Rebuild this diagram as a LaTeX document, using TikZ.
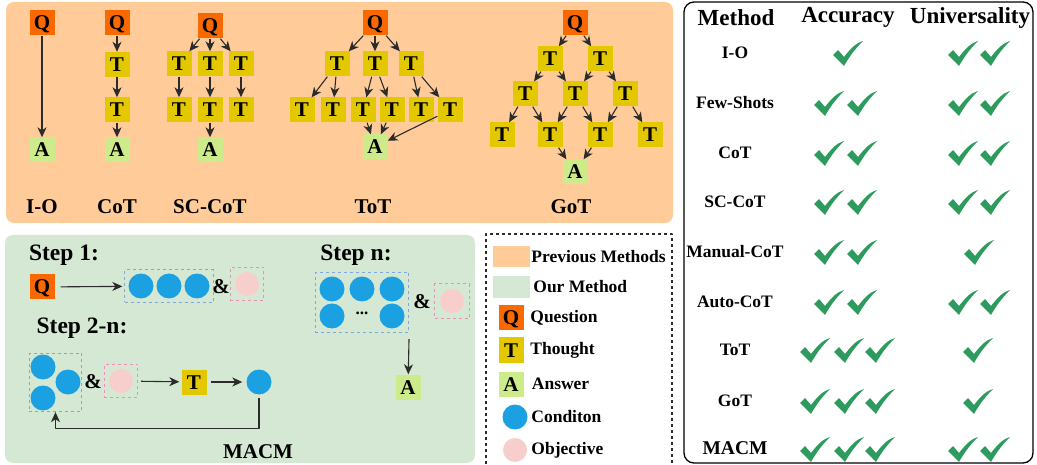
\documentclass[tikz,border=0pt]{standalone}
\usepackage{fontspec}
\setmainfont{Liberation Serif}
\usetikzlibrary{arrows.meta,fit,positioning}
\definecolor{prevbg}{HTML}{FFCC99}
\definecolor{ourbg}{HTML}{D5E8D4}
\definecolor{qorange}{HTML}{FA6800}
\definecolor{tyellow}{HTML}{E3C800}
\definecolor{agreen}{HTML}{CDEB8B}
\definecolor{condblue}{HTML}{1BA1E2}
\definecolor{objpink}{HTML}{F8CECC}
\definecolor{chkgreen}{HTML}{2E9B5E}
\definecolor{boxblue}{HTML}{7EA6E0}
\definecolor{boxpink}{HTML}{EA8FB8}
\definecolor{arrline}{HTML}{2B2B2B}
\tikzset{
  letter/.style={minimum width=25pt, minimum height=25pt, inner sep=0pt, text height=14pt, text depth=0pt, font=\fontsize{21}{21}\selectfont\bfseries},
  qbox/.style={letter, fill=qorange},
  tbox/.style={letter, fill=tyellow},
  abox/.style={letter, fill=agreen},
  cond/.style={circle, fill=condblue, minimum size=25pt, inner sep=0pt},
  obj/.style={circle, fill=objpink, minimum size=24pt, inner sep=0pt},
  arr/.style={-{Stealth[length=10pt,width=9pt,inset=3pt]}, draw=arrline, line width=1.1pt},
  lbl/.style={font=\fontsize{21}{21}\selectfont\bfseries},
  steplbl/.style={font=\fontsize{23.5}{24}\selectfont\bfseries},
  hdr/.style={font=\fontsize{23}{24}\selectfont\bfseries},
  rowlbl/.style={font=\fontsize{17.5}{18}\selectfont\bfseries},
  legtxt/.style={inner sep=0pt, anchor=west, font=\fontsize{17.5}{18}\selectfont\bfseries},
  bluegrp/.style={draw=boxblue, dashed, line width=0.9pt},
  pinkgrp/.style={draw=boxpink, dashed, line width=0.9pt},
  chk/.pic={\fill[chkgreen] (-15,1) -- (-10,-4) -- (-4,3) .. controls (3,-6) and (8,-11) .. (15,-13)
      .. controls (7,-5) and (1,3) .. (-4,12) -- cycle;}
}
\begin{document}
\begin{tikzpicture}[x=1pt, y=-1pt, line join=round]
\useasboundingbox (0,0) rectangle (1037,465);
% panels
\fill[prevbg, rounded corners=8pt] (6,2) rectangle (673,223);
\fill[ourbg, rounded corners=8pt] (5,235) rectangle (475,463);
\draw[line width=1.3pt, rounded corners=10pt] (684,2) rectangle (1033,463);
\draw[arrline, dashed, line width=1.1pt] (486,470) -- (486,234) -- (672,234) -- (672,470);

% I-O
\node[qbox] (ioq) at (42,23) {Q};
\node[abox] (ioa) at (42,150) {A};
\draw[arr] (ioq) -- (ioa);
\node[lbl] (iol) at (42,207) {I-O};

% CoT
\node[qbox] (cotq) at (117,23) {Q};
\node[tbox] (cott1) at (117,64.5) {T};
\node[tbox] (cott2) at (117,110) {T};
\node[abox] (cota) at (117,150) {A};
\draw[arr] (cotq) -- (cott1);
\draw[arr] (cott1) -- (cott2);
\draw[arr] (cott2) -- (cota);
\node[lbl] (cotl) at (117,207) {CoT};

% SC-CoT
\node[qbox] (scq) at (210,26) {Q};
\foreach \x [count=\i] in {179,210,241}{
  \node[tbox] (sc1\i) at (\x,64) {T};
  \node[tbox] (sc2\i) at (\x,110) {T};
  \draw[arr] (scq) -- (sc1\i);
  \draw[arr] (sc1\i) -- (sc2\i);
}
\node[abox] (sca) at (210,150) {A};
\draw[arr] (sc22) -- (sca);
\node[lbl] (scl) at (210,207) {SC-CoT};

% ToT
\node[qbox] (totq) at (375,23) {Q};
\foreach \x [count=\i] in {337,375,411}{
  \node[tbox] (tot1\i) at (\x,64) {T};
  \draw[arr] (totq) -- (tot1\i);
}
\foreach \x [count=\i] in {302,333,363,392,421,450}
  \node[tbox] (tot2\i) at (\x,110) {T};
\foreach \a/\b in {1/1,1/2,2/3,2/4,3/5,3/6}
  \draw[arr] (tot1\a) -- (tot2\b);
\node[abox] (tota) at (375,147) {A};
\foreach \b in {3,4,6}
  \draw[arr] (tot2\b) -- (tota);
\node[lbl] (totl) at (373,207) {ToT};

% GoT
\node[qbox] (gotq) at (575,23) {Q};
\foreach \x [count=\i] in {550,600}
  \node[tbox] (got1\i) at (\x,59) {T};
\foreach \x [count=\i] in {525,575,625}
  \node[tbox] (got2\i) at (\x,94) {T};
\foreach \x [count=\i] in {502,550,600,650}
  \node[tbox] (got3\i) at (\x,135) {T};
\node[abox] (gota) at (575,172) {A};
\draw[arr] (gotq) -- (got11);
\draw[arr] (gotq) -- (got12);
\foreach \a/\b in {1/1,1/2,2/2,2/3}
  \draw[arr] (got1\a) -- (got2\b);
\foreach \a/\b in {1/1,1/2,2/2,2/3,3/3,3/4}
  \draw[arr] (got2\a) -- (got3\b);
\draw[arr] (got32) -- (gota);
\draw[arr] (got33) -- (gota);
\node[lbl] (gotl) at (571,207) {GoT};

% Step 1
\node[steplbl] (st1) at (64,255) {Step 1:};
\node[qbox] (s1q) at (42,287) {Q};
\foreach \x [count=\i] in {141,169,197}
  \node[cond] (c1\i) at (\x,286) {};
\node[bluegrp, fit=(c11)(c13), inner sep=3.5pt] (b1) {};
\node[lbl] (amp1) at (221,287) {\&};
\node[obj] (o1) at (247,284) {};
\node[pinkgrp, fit=(o1), inner sep=4.5pt] (p1) {};
\draw[arr, shorten <=6pt, shorten >=2pt] (s1q) -- (b1);

% Step 2-n
\node[steplbl] (st2) at (82,328) {Step 2-n:};
\node[cond] (c21) at (43,367) {};
\node[cond] (c22) at (68,382) {};
\node[cond] (c23) at (43,398) {};
\node[bluegrp, fit=(c21)(c22)(c23), inner sep=1pt] (b2) {};
\node[lbl] (amp2) at (93,382) {\&};
\node[obj] (o2) at (121,381) {};
\node[pinkgrp, fit=(o2), inner sep=4.5pt] (p2) {};
\node[tbox] (s2t) at (194,382) {T};
\node[cond] (c3) at (259,382) {};
\draw[arr, shorten <=3pt, shorten >=2pt] (p2) -- (s2t);
\draw[arr, shorten <=4pt, shorten >=4pt] (s2t) -- (c3);
\draw[arr, shorten <=3pt] (c3.south) -- ++(0,34) -| (b2.south);
\node[lbl] (macm) at (258,452) {MACM};

% Step n
\node[steplbl] (stn) at (356,255) {Step n:};
\foreach \x [count=\i] in {332,362,392}
  \node[cond] (cn\i) at (\x,289) {};
\node[cond] (cn4) at (332,316) {};
\node[cond] (cn5) at (392,316) {};
\node[font=\fontsize{17}{17}\selectfont\bfseries] (dots) at (362,313) {...};
\node[bluegrp, fit=(cn1)(cn3)(cn5), inner sep=4pt] (bn) {};
\node[lbl] (amp3) at (422,302) {\&};
\node[obj] (on) at (452,301) {};
\node[pinkgrp, fit=(on), inner sep=5pt] (pn) {};
\node[abox] (ansn) at (408,387) {A};
\draw[arr, shorten <=6pt] (bn.south east) -- (ansn);

% legend
\node[fill=prevbg, minimum width=37pt, minimum height=21pt, inner sep=0pt] (lgprev) at (511.5,256.5) {};
\node[legtxt, right=1pt of lgprev] (lgprevt) {Previous Methods};
\node[fill=ourbg, minimum width=37pt, minimum height=22pt, inner sep=0pt] (lgour) at (511.5,287) {};
\node[legtxt, right=3pt of lgour] (lgourt) {Our Method};
\node[qbox] (lgq) at (511,318) {Q};
\node[legtxt, right=6.5pt of lgq] (lgqt) {Question};
\node[tbox] (lgt) at (511,350) {T};
\node[legtxt, right=6.5pt of lgt] (lgtt) {Thought};
\node[abox] (lga) at (511,384) {A};
\node[legtxt, right=8pt of lga] (lgat) {Answer};
\node[cond] (lgc) at (515,417) {};
\node[legtxt, right=3.5pt of lgc] (lgct) {Conditon};
\node[obj] (lgo) at (515,450) {};
\node[legtxt, right=4pt of lgo] (lgot) {Objective};

% table
\node[hdr] (hmeth) at (736,18) {Method};
\node[hdr] (hacc) at (848,17) {Accuracy};
\node[hdr] (huni) at (970,18) {Universality};
\foreach \m/\yy/\ax/\ux [count=\i] in {I-O/53/{848}/{963,995}, Few-Shots/103/{829,862}/{963,995},
    CoT/153/{829,862}/{963,995}, SC-CoT/202/{829,862}/{963,995}, Manual-CoT/252/{829,862}/{979},
    Auto-CoT/302/{829,862}/{963,995}, ToT/350/{815,849,880}/{978}, GoT/401/{815,849,880}/{978}}{
  \node[rowlbl] (row\i) at (735,\yy) {\m};
  \foreach \x in \ax \pic at (\x,\yy+1) {chk};
  \foreach \x in \ux \pic at (\x,\yy+1) {chk};
}
\node[rowlbl, font=\fontsize{19.5}{20}\selectfont\bfseries] (row9) at (735,448) {MACM};
\foreach \x in {815,849,880,963,995} \pic at (\x,450) {chk};
\end{tikzpicture}
\end{document}
